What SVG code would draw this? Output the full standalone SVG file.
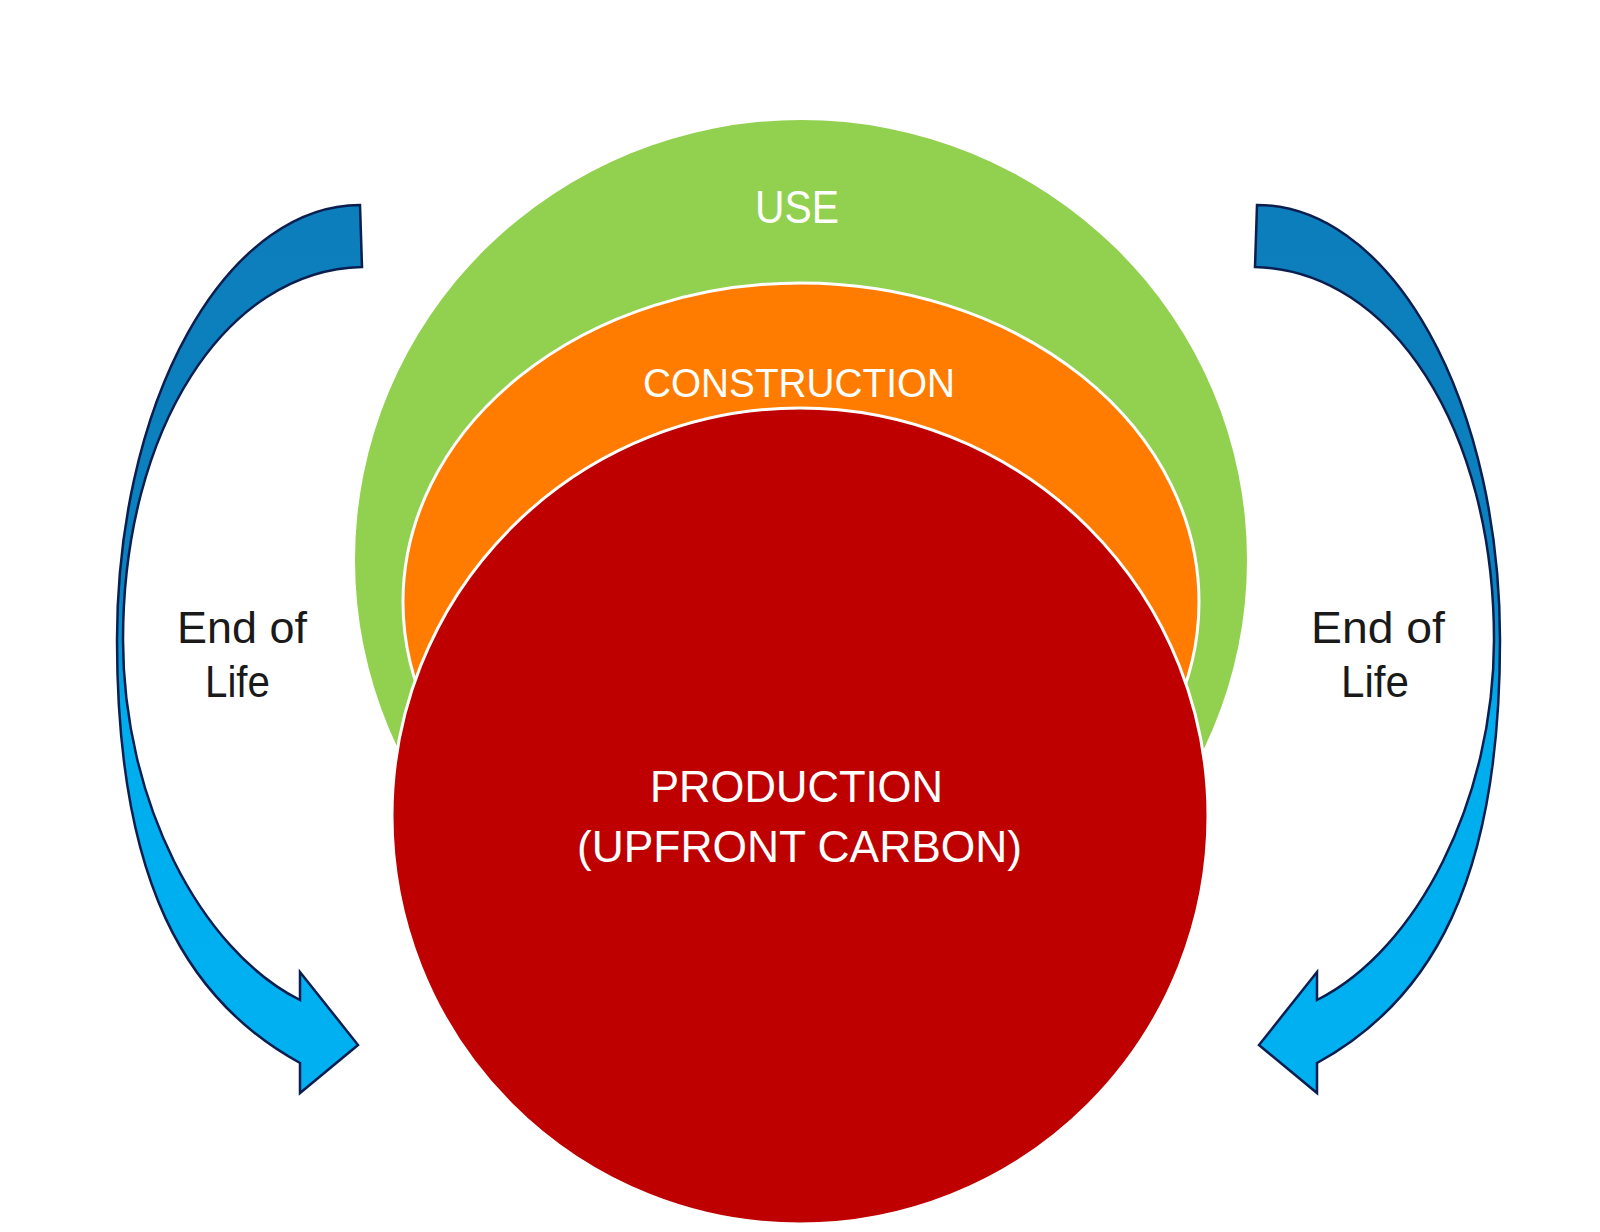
<svg xmlns="http://www.w3.org/2000/svg" xmlns:xlink="http://www.w3.org/1999/xlink" width="1600" height="1232" viewBox="0 0 1600 1232">
<style>
.lbl{font-family:"Liberation Sans",Arial,sans-serif;fill:#ffffff;}
.eol{font-family:"Liberation Sans",Arial,sans-serif;fill:#1a1a1a;font-size:44px;}
.arrow{fill:url(#blueGrad);stroke:#0a1e50;stroke-width:2.5;stroke-linejoin:miter;}
</style>
<defs>
<linearGradient id="blueGrad" gradientUnits="userSpaceOnUse" x1="0" y1="205" x2="0" y2="1093">
<stop offset="0" stop-color="#0c7ebb"/>
<stop offset="0.42" stop-color="#0b82c0"/>
<stop offset="0.58" stop-color="#00aeee"/>
<stop offset="1" stop-color="#00b0f0"/>
</linearGradient>
<path id="arrowShape" class="arrow" d="M 360 205 A 243 435 0 0 0 117 640 C 117 880 185 1000 300 1063 L 300 1093 L 358 1045 L 300 972 L 300 1000 C 200 950 123 800 123 640 C 123 430 225 270 362 267 Z"/>
</defs>
<rect width="1600" height="1232" fill="#ffffff"/>
<g id="use">
<ellipse cx="801" cy="560" rx="446" ry="440" fill="#92d050"/>
<text class="lbl" x="755" y="223" font-size="46" textLength="84" lengthAdjust="spacingAndGlyphs">USE</text>
</g>
<g id="construction">
<ellipse cx="801" cy="602" rx="398" ry="319" fill="#ff7c00" stroke="#ffffff" stroke-width="3"/>
<text class="lbl" x="643" y="397" font-size="41" textLength="312" lengthAdjust="spacingAndGlyphs">CONSTRUCTION</text>
</g>
<g id="production">
<circle cx="800" cy="816" r="408" fill="#bf0000" stroke="#ffffff" stroke-width="3"/>
<text class="lbl" x="650" y="802" font-size="44" textLength="293" lengthAdjust="spacingAndGlyphs">PRODUCTION</text>
<text class="lbl" x="577" y="862" font-size="44" textLength="445" lengthAdjust="spacingAndGlyphs">(UPFRONT CARBON)</text>
</g>
<g id="connectors">
<g id="eol-left-arrow"><use xlink:href="#arrowShape"/></g>
<g id="eol-right-arrow"><use xlink:href="#arrowShape" transform="translate(1617,0) scale(-1,1)"/></g>
</g>
<g id="eol-left-label">
<text class="eol" x="177" y="643" textLength="130" lengthAdjust="spacingAndGlyphs">End of</text>
<text class="eol" x="205" y="697" textLength="65" lengthAdjust="spacingAndGlyphs">Life</text>
</g>
<g id="eol-right-label">
<text class="eol" x="1311" y="643" textLength="134" lengthAdjust="spacingAndGlyphs">End of</text>
<text class="eol" x="1341" y="697" textLength="68" lengthAdjust="spacingAndGlyphs">Life</text>
</g>
</svg>
